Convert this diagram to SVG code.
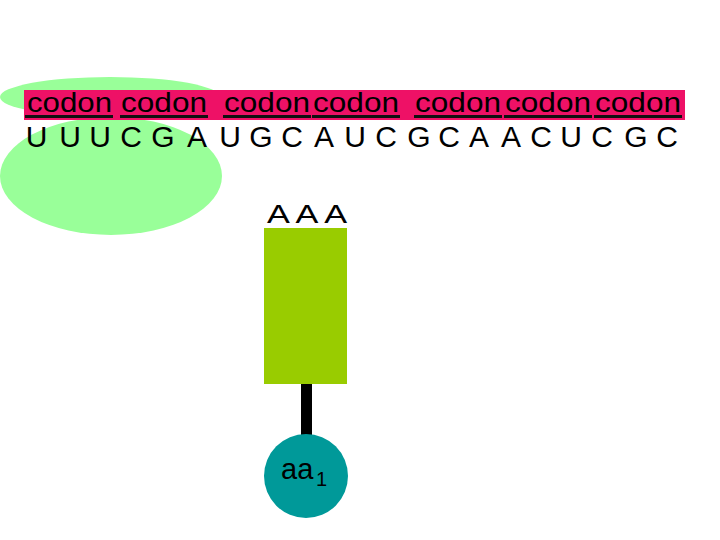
<svg xmlns="http://www.w3.org/2000/svg" width="720" height="540" viewBox="0 0 720 540">
<style>
.t{font-family:"Liberation Sans",Arial,sans-serif;fill:#000}
.cod{font-size:28px}
.ul{fill:#111}
</style>
<rect x="0" y="0" width="720" height="540" fill="#fff"/>
<g id="ribosome">
<ellipse cx="110" cy="97" rx="110" ry="20" fill="#99FF99"/>
<ellipse cx="111" cy="176" rx="111" ry="59" fill="#99FF99"/>
</g>
<g id="codons">
<rect x="24" y="90" width="661" height="30" fill="#EE1166"/>
<text class="t cod" x="27" y="112" textLength="85" lengthAdjust="spacingAndGlyphs">codon</text>
<text class="t cod" x="121" y="112" textLength="86" lengthAdjust="spacingAndGlyphs">codon</text>
<text class="t cod" x="224" y="112" textLength="86" lengthAdjust="spacingAndGlyphs">codon</text>
<text class="t cod" x="313" y="112" textLength="86" lengthAdjust="spacingAndGlyphs">codon</text>
<text class="t cod" x="415" y="112" textLength="86" lengthAdjust="spacingAndGlyphs">codon</text>
<text class="t cod" x="505" y="112" textLength="86" lengthAdjust="spacingAndGlyphs">codon</text>
<text class="t cod" x="595" y="112" textLength="86" lengthAdjust="spacingAndGlyphs">codon</text>
<rect class="ul" x="25" y="115" width="88" height="3"/>
<rect class="ul" x="120" y="115" width="88" height="3"/>
<rect class="ul" x="223" y="115" width="88" height="3"/>
<rect class="ul" x="312" y="115" width="88" height="3"/>
<rect class="ul" x="414" y="115" width="88" height="3"/>
<rect class="ul" x="504" y="115" width="88" height="3"/>
<rect class="ul" x="594" y="115" width="88" height="3"/>
</g>
<g id="mrna">
<text class="t" y="147" font-size="30" text-anchor="middle" x="36.5 53 70 85 100 115 131 147 163 180 197 213 230 245 261 276 292 308 324 340 355 370 386 402 419 434 449 464 479 495 511 526 541 556 571 586 602 619 636 651 667">U U U C G A U G C A U C G C A A C U C G C</text>
</g>
<g id="connectors">
<rect x="301" y="384" width="11" height="54" fill="#000"/>
</g>
<g id="trna">
<text class="t" x="267" y="223" font-size="26" textLength="80" lengthAdjust="spacingAndGlyphs">A A A</text>
<rect x="264" y="228" width="83" height="156" fill="#99CC00"/>
</g>
<g id="aa1">
<circle cx="306" cy="476" r="42" fill="#009999"/>
<text class="t" x="281" y="479" font-size="29">aa</text>
<text class="t" x="316" y="486" font-size="20">1</text>
</g>
</svg>
